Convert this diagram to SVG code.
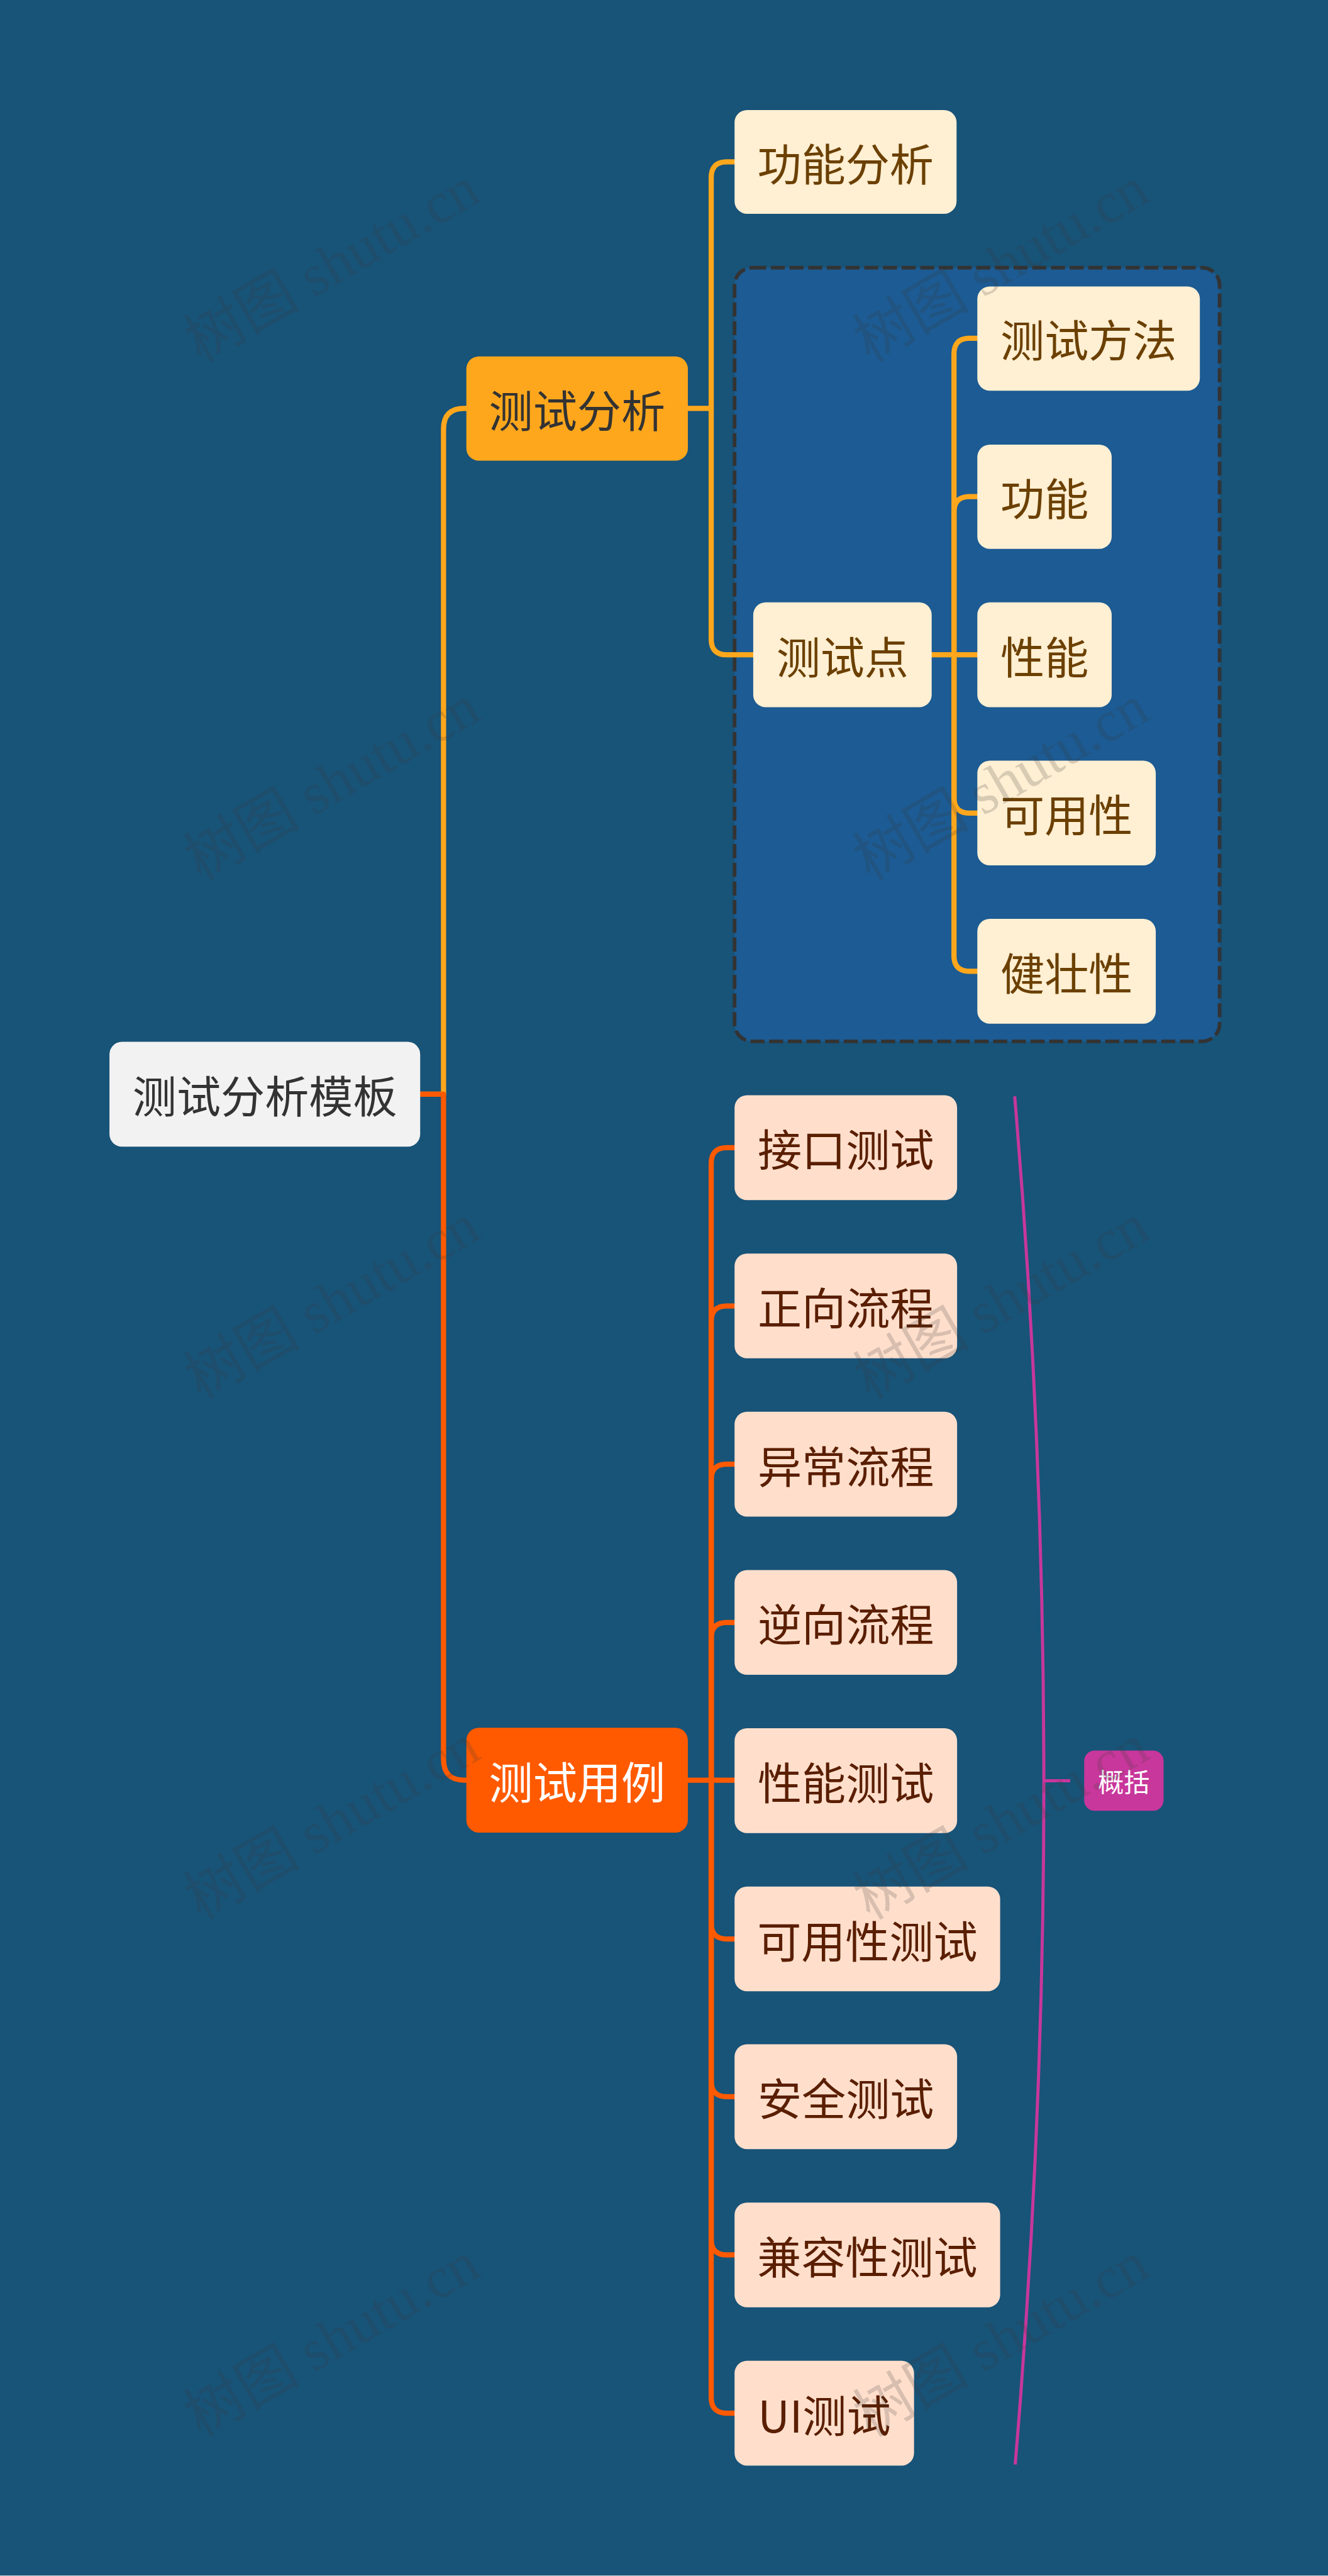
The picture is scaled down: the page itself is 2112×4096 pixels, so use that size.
<svg xmlns="http://www.w3.org/2000/svg" width="2112" height="4096" viewBox="0 0 2112 4096">
<style>
.conn{fill:none;stroke-width:10;stroke-linecap:round;stroke-linejoin:round}
.y{stroke:#FFA71C}
.o{stroke:#FF5A00}
.t{font-family:"Noto Sans CJK SC","Noto Sans",sans-serif;font-size:85px;text-anchor:middle;dominant-baseline:central}
.c1 rect{fill:#FFEFD3}
.c1 text{fill:#6B4000}
.c2 rect{fill:#FFDFCC}
.c2 text{fill:#5A1E00}
.wm{font-family:"Liberation Serif","Noto Sans CJK SC",serif;font-size:112px;fill:#3c3c3c;fill-opacity:0.2;text-anchor:middle;dominant-baseline:central}
</style>
<g transform="scale(0.825)">
<rect x="0" y="0" width="2560" height="4964" fill="#185378"/>
<g id="boundary">
<rect x="1416" y="516" width="935" height="1491" rx="34" fill="#1C5B93" stroke="#333333" stroke-width="7" stroke-dasharray="27 9"/>
</g>
<g id="connectors">
<path class="conn y" d="M810 2109 H855 V827 Q855 787 895 787 H899"/>
<path class="conn o" d="M810 2109 H855 V3391 Q855 3431 895 3431 H899"/>
<path class="conn y" d="M1326 787 H1371 V342 Q1371 312 1401 312 H1416"/>
<path class="conn y" d="M1371 787 V1232 Q1371 1262 1401 1262 H1452"/>
<path class="conn y" d="M1796 1262 H1839 V682 Q1839 652 1869 652 H1884"/>
<path class="conn y" d="M1839 1262 V987 Q1839 957 1869 957 H1884"/>
<path class="conn y" d="M1839 1262 H1884"/>
<path class="conn y" d="M1839 1262 V1537 Q1839 1567 1869 1567 H1884"/>
<path class="conn y" d="M1839 1262 V1842 Q1839 1872 1869 1872 H1884"/>
<path class="conn o" d="M1326 3431 H1371 V2242 Q1371 2212 1401 2212 H1416"/>
<path class="conn o" d="M1371 3431 V2547 Q1371 2517 1401 2517 H1416"/>
<path class="conn o" d="M1371 3431 V2852 Q1371 2822 1401 2822 H1416"/>
<path class="conn o" d="M1371 3431 V3157 Q1371 3127 1401 3127 H1416"/>
<path class="conn o" d="M1371 3431 H1416"/>
<path class="conn o" d="M1371 3431 V3707 Q1371 3737 1401 3737 H1416"/>
<path class="conn o" d="M1371 3431 V4011 Q1371 4041 1401 4041 H1416"/>
<path class="conn o" d="M1371 3431 V4316 Q1371 4346 1401 4346 H1416"/>
<path class="conn o" d="M1371 3431 V4621 Q1371 4651 1401 4651 H1416"/>
<path fill="none" stroke="#C8379B" stroke-width="6" d="M1956 2113 Q2068 3432 1957 4750"/>
<path fill="none" stroke="#C8379B" stroke-width="6" d="M2012 3432 H2063"/>
</g>
<g id="root"><rect x="211" y="2008" width="599" height="202" rx="24" fill="#F2F2F2"/><text class="t" x="510.5" y="2109" fill="#333333">测试分析模板</text></g>
<g id="n-analysis"><rect x="899" y="687" width="427" height="201" rx="24" fill="#FFA71C"/><text class="t" x="1112.5" y="787" fill="#333333">测试分析</text></g>
<g id="n-cases"><rect x="899" y="3330" width="427" height="202" rx="24" fill="#FF5A00"/><text class="t" x="1112.5" y="3431" fill="#FFFFFF">测试用例</text></g>
<g id="n-func-analysis" class="c1"><rect x="1416" y="212" width="428" height="200" rx="24"/><text class="t" x="1630" y="312">功能分析</text></g>
<g id="n-points" class="c1"><rect x="1452" y="1161" width="344" height="202" rx="24"/><text class="t" x="1624" y="1262">测试点</text></g>
<g id="n-method" class="c1"><rect x="1884" y="552" width="429" height="201" rx="24"/><text class="t" x="2098.5" y="652">测试方法</text></g>
<g id="n-func" class="c1"><rect x="1884" y="857" width="259" height="201" rx="24"/><text class="t" x="2013.5" y="957">功能</text></g>
<g id="n-perf" class="c1"><rect x="1884" y="1161" width="259" height="202" rx="24"/><text class="t" x="2013.5" y="1262">性能</text></g>
<g id="n-usab" class="c1"><rect x="1884" y="1466" width="344" height="202" rx="24"/><text class="t" x="2056" y="1567">可用性</text></g>
<g id="n-robust" class="c1"><rect x="1884" y="1771" width="344" height="202" rx="24"/><text class="t" x="2056" y="1872">健壮性</text></g>
<g id="n-api" class="c2"><rect x="1416" y="2111" width="429" height="202" rx="24"/><text class="t" x="1630.5" y="2212">接口测试</text></g>
<g id="n-forward" class="c2"><rect x="1416" y="2416" width="429" height="202" rx="24"/><text class="t" x="1630.5" y="2517">正向流程</text></g>
<g id="n-exception" class="c2"><rect x="1416" y="2721" width="429" height="202" rx="24"/><text class="t" x="1630.5" y="2822">异常流程</text></g>
<g id="n-reverse" class="c2"><rect x="1416" y="3026" width="429" height="202" rx="24"/><text class="t" x="1630.5" y="3127">逆向流程</text></g>
<g id="n-perftest" class="c2"><rect x="1416" y="3331" width="429" height="202" rx="24"/><text class="t" x="1630.5" y="3432">性能测试</text></g>
<g id="n-usabtest" class="c2"><rect x="1416" y="3636" width="512" height="202" rx="24"/><text class="t" x="1672" y="3737">可用性测试</text></g>
<g id="n-security" class="c2"><rect x="1416" y="3940" width="429" height="202" rx="24"/><text class="t" x="1630.5" y="4041">安全测试</text></g>
<g id="n-compat" class="c2"><rect x="1416" y="4245" width="512" height="202" rx="24"/><text class="t" x="1672" y="4346">兼容性测试</text></g>
<g id="n-ui" class="c2"><rect x="1416" y="4550" width="346" height="202" rx="24"/><text class="t" x="1589" y="4651">UI测试</text></g>
<g id="n-summary"><rect x="2090" y="3374" width="153" height="116" rx="20" fill="#C8379B"/><text class="t" x="2166.5" y="3432" fill="#FFFFFF" style="font-size:50px">概括</text></g>
<g id="watermark">
<text class="wm" transform="translate(640 510) rotate(-30)">树图 shutu.cn</text>
<text class="wm" transform="translate(1930 510) rotate(-30)">树图 shutu.cn</text>
<text class="wm" transform="translate(640 1509) rotate(-30)">树图 shutu.cn</text>
<text class="wm" transform="translate(1930 1509) rotate(-30)">树图 shutu.cn</text>
<text class="wm" transform="translate(640 2509) rotate(-30)">树图 shutu.cn</text>
<text class="wm" transform="translate(1930 2509) rotate(-30)">树图 shutu.cn</text>
<text class="wm" transform="translate(640 3512) rotate(-30)">树图 shutu.cn</text>
<text class="wm" transform="translate(1930 3512) rotate(-30)">树图 shutu.cn</text>
<text class="wm" transform="translate(640 4509) rotate(-30)">树图 shutu.cn</text>
<text class="wm" transform="translate(1930 4509) rotate(-30)">树图 shutu.cn</text>
</g>
</g>
</svg>
